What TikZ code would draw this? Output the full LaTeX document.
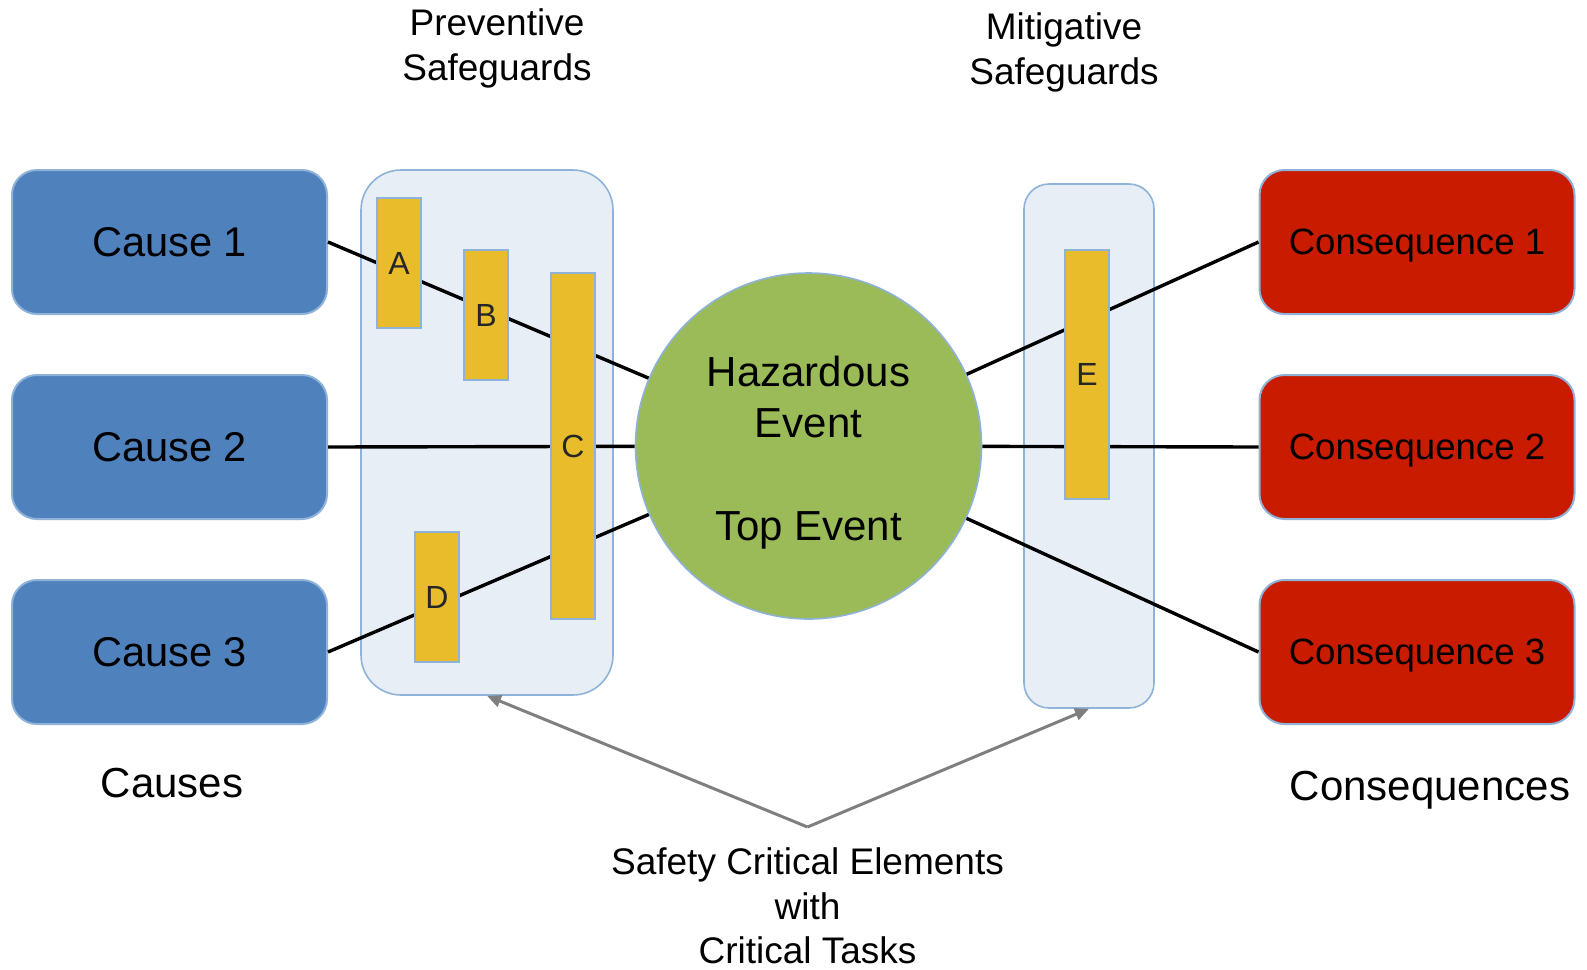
\documentclass[tikz,border=0pt]{standalone}
\usepackage{fontspec}
\setmainfont{Liberation Sans}
\usetikzlibrary{arrows.meta}
\definecolor{causeblue}{HTML}{4F81BD}
\definecolor{consred}{HTML}{C81B00}
\definecolor{edgeblue}{HTML}{8FB2D8}
\definecolor{panelfill}{HTML}{E7EEF6}
\definecolor{baryellow}{HTML}{E8BC2A}
\definecolor{hazgreen}{HTML}{9BBB59}
\definecolor{arrowgray}{HTML}{7F7F7F}
\begin{document}
\begin{tikzpicture}[x=0.5pt,y=-0.5pt,
  causebox/.style={draw=edgeblue, line width=1pt, fill=causeblue, rounded corners=12.5pt,
    minimum width=157.5pt, minimum height=72pt, inner sep=0pt, font=\fontsize{20.8}{25}\selectfont},
  consbox/.style={causebox, fill=consred, text depth=0pt, font=\fontsize{18.3}{22}\selectfont},
  panel/.style={draw=edgeblue, line width=0.8pt, fill=panelfill, inner sep=0pt},
  barbox/.style={draw=edgeblue, line width=0.8pt, fill=baryellow, minimum width=22pt,
    inner sep=0pt, text=black!85, font=\fontsize{16}{19}\selectfont},
  link/.style={line width=1.7pt, black},
  callout/.style={line width=1.5pt, arrowgray, -{Triangle[length=7pt,width=6pt]}},
  plainlabel/.style={align=center, font=\fontsize{18.5}{22.3}\selectfont},
  biglabel/.style={align=center, font=\fontsize{21}{25}\selectfont},
]
\useasboundingbox (0,0) rectangle (1587,970);

% panels
\node[panel, rounded corners=20pt, minimum width=126pt, minimum height=262.5pt] (prev) at (487,432.5) {};
\node[panel, rounded corners=12.5pt, minimum width=65pt, minimum height=262pt] (mit) at (1089,446) {};

% causes and consequences
\node[causebox] (c1) at (169.5,242) {Cause 1};
\node[causebox] (c2) at (169.5,447) {Cause 2};
\node[causebox] (c3) at (169.5,652) {Cause 3};
\node[consbox] (q1) at (1417,242) {Consequence 1};
\node[consbox] (q2) at (1417,447) {Consequence 2};
\node[consbox] (q3) at (1417,652) {Consequence 3};

% hazardous event
\node[circle, draw=edgeblue, line width=0.8pt, fill=hazgreen, minimum size=173pt, inner sep=0pt,
  align=center, font=\fontsize{21}{25.8}\selectfont] (haz) at (808.5,446)
  {\rule{0pt}{21.8pt}Hazardous\\Event\\[25.8pt]Top Event};

% connectors
\draw[link] (c1.east) -- (haz);
\draw[link] (c2.east) -- (haz);
\draw[link] (c3.east) -- (haz);
\draw[link] (haz) -- (q1.west);
\draw[link] (haz) -- (q2.west);
\draw[link] (haz) -- (q3.west);

% barriers
\node[barbox, minimum height=65pt] (ba) at (399,263) {A};
\node[barbox, minimum height=65pt] (bb) at (486,315) {B};
\node[barbox, minimum height=173pt] (bc) at (573,446) {C};
\node[barbox, minimum height=65pt] (bd) at (437,597) {D};
\node[barbox, minimum height=124.5pt] (be) at (1087,374.5) {E};

% labels
\node[plainlabel] (lprev) at (497,48.5) {Preventive\\Safeguards};
\node[plainlabel] (lmit) at (1064,52.5) {Mitigative\\Safeguards};
\node[biglabel] (lcauses) at (172,783) {Causes};
\node[biglabel] (lcons) at (1430,790) {Consequences};
\node[plainlabel] (lsce) at (807.5,906) {Safety Critical Elements\\with\\Critical Tasks};

% callout arrows
\coordinate (apex) at (807.5,827);
\draw[callout] (apex) -- (prev.south);
\draw[callout] (apex) -- (mit.south);
\end{tikzpicture}
\end{document}
